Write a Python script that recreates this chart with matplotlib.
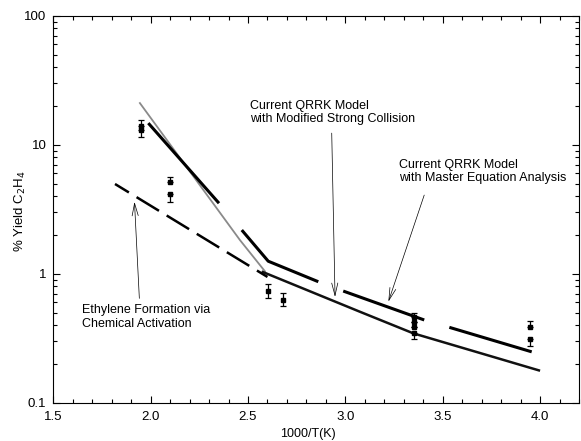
"""
% Yield C2H4 vs 1000/T - QRRK model comparison
"""

import matplotlib
matplotlib.use("Agg")
import matplotlib.pyplot as plt
from matplotlib.ticker import LogLocator, MultipleLocator, FixedLocator, FixedFormatter

plt.rcParams["font.family"] = ["Liberation Sans", "DejaVu Sans"]

# Podaci

# Master equation model (debela crna linija, u segmentima)
ME_SEGMENTS = [
    ([1.988, 2.351], [14.7, 3.52]),
    ([2.468, 2.604, 2.861], [2.18, 1.25, 0.867]),
    ([2.989, 3.405], [0.734, 0.438]),
    ([3.534, 3.957], [0.384, 0.248]),
]

# Modified strong collision - sivi dio (visoke temperature)
MSC_GRAY_X = [1.942, 2.459, 2.590]
MSC_GRAY_Y = [21.3, 1.82, 1.03]

# Modified strong collision - crni dio
MSC_X = [2.570, 3.075, 3.349, 4.000]
MSC_Y = [1.04, 0.507, 0.345, 0.177]

# Chemical activation (isprekidana)
CA_X = [1.817, 2.600]
CA_Y = [4.96, 0.944]

# Eksperimentalne tocke
EXP_X = [1.949, 1.949, 2.099, 2.099, 2.604, 2.678,
         3.353, 3.353, 3.353, 3.353, 3.948, 3.948]
EXP_Y = [14.0, 12.9, 5.11, 4.13, 0.734, 0.625,
         0.46, 0.42, 0.385, 0.35, 0.388, 0.312]
EXP_ERR_LO = [0.0, 1.5, 0.0, 0.56, 0.084, 0.065,
              0.0, 0.0, 0.0, 0.04, 0.0, 0.037]
EXP_ERR_HI = [1.5, 0.0, 0.54, 0.0, 0.096, 0.08,
              0.04, 0.0, 0.0, 0.0, 0.042, 0.0]

X_TICKS = [1.5, 2.0, 2.5, 3.0, 3.5, 4.0]
Y_TICKS = [0.1, 1, 10, 100]
Y_TICK_LABELS = ["0.1", "1", "10", "100"]

# Crtanje

fig = plt.figure(figsize=(5.81, 4.41), dpi=100)
ax = fig.add_axes([0.0917, 0.0868, 0.9049, 0.8776])

ax.plot(MSC_GRAY_X, MSC_GRAY_Y, color="#8a8a8a", linewidth=1.3,
        solid_capstyle="butt", zorder=2)
ax.plot(MSC_X, MSC_Y, color="#111111", linewidth=1.8,
        solid_capstyle="butt", zorder=3)

for xs, ys in ME_SEGMENTS:
    ax.plot(xs, ys, color="black", linewidth=2.2,
            solid_capstyle="butt", zorder=4)

ax.plot(CA_X, CA_Y, color="black", linewidth=1.8,
        linestyle=(4.0, (10.5, 3.6)), zorder=3)

ax.errorbar(EXP_X, EXP_Y, yerr=[EXP_ERR_LO, EXP_ERR_HI],
            fmt="s", color="black", markersize=3.2, elinewidth=0.9,
            capsize=2.5, capthick=0.9, zorder=5)

# Anotacije
arrow = dict(arrowstyle="->,head_width=0.22,head_length=0.9",
             color="black", lw=0.5, shrinkA=0, shrinkB=0)

ax.text(2.510, 17.8, "Current QRRK Model\nwith Modified Strong Collision",
        fontsize=9, va="center", ha="left", linespacing=1.2)
ax.annotate("", xy=(2.947, 0.66), xytext=(2.930, 12.3), arrowprops=arrow)

ax.text(3.275, 6.2, "Current QRRK Model\nwith Master Equation Analysis",
        fontsize=9, va="center", ha="left", linespacing=1.2)
ax.annotate("", xy=(3.221, 0.607), xytext=(3.405, 4.07), arrowprops=arrow)

ax.text(1.646, 0.46, "Ethylene Formation via\nChemical Activation",
        fontsize=9, va="center", ha="left", linespacing=1.2)
ax.annotate("", xy=(1.917, 3.61), xytext=(1.942, 0.644), arrowprops=arrow)

# Osi
ax.set_yscale("log")
ax.set_xlim(1.5, 4.2)
ax.set_ylim(0.1, 100)

ax.xaxis.set_major_locator(FixedLocator(X_TICKS))
ax.xaxis.set_minor_locator(MultipleLocator(0.1))
ax.yaxis.set_major_locator(FixedLocator(Y_TICKS))
ax.yaxis.set_major_formatter(FixedFormatter(Y_TICK_LABELS))
ax.yaxis.set_minor_locator(LogLocator(base=10, subs=range(2, 10)))
ax.xaxis.set_major_formatter(plt.FuncFormatter(lambda v, p: f"{v:.1f}"))

ax.tick_params(which="both", direction="in", top=True, right=True,
               labelsize=9.5, width=0.8)
ax.tick_params(which="major", length=5)
ax.tick_params(which="minor", length=3)
ax.tick_params(axis="x", which="major", pad=6)
ax.tick_params(axis="y", which="major", pad=5)
ax.yaxis.set_minor_formatter(plt.NullFormatter())

for s in ax.spines.values():
    s.set_linewidth(0.8)

ax.set_xlabel("1000/T(K)", fontsize=9)
ax.xaxis.set_label_coords(0.4845, -0.065)
ax.set_ylabel("% Yield C$_2$H$_4$", fontsize=9.5)
ax.yaxis.set_label_coords(-0.048, 0.495)

fig.savefig("out.png", dpi=100)
